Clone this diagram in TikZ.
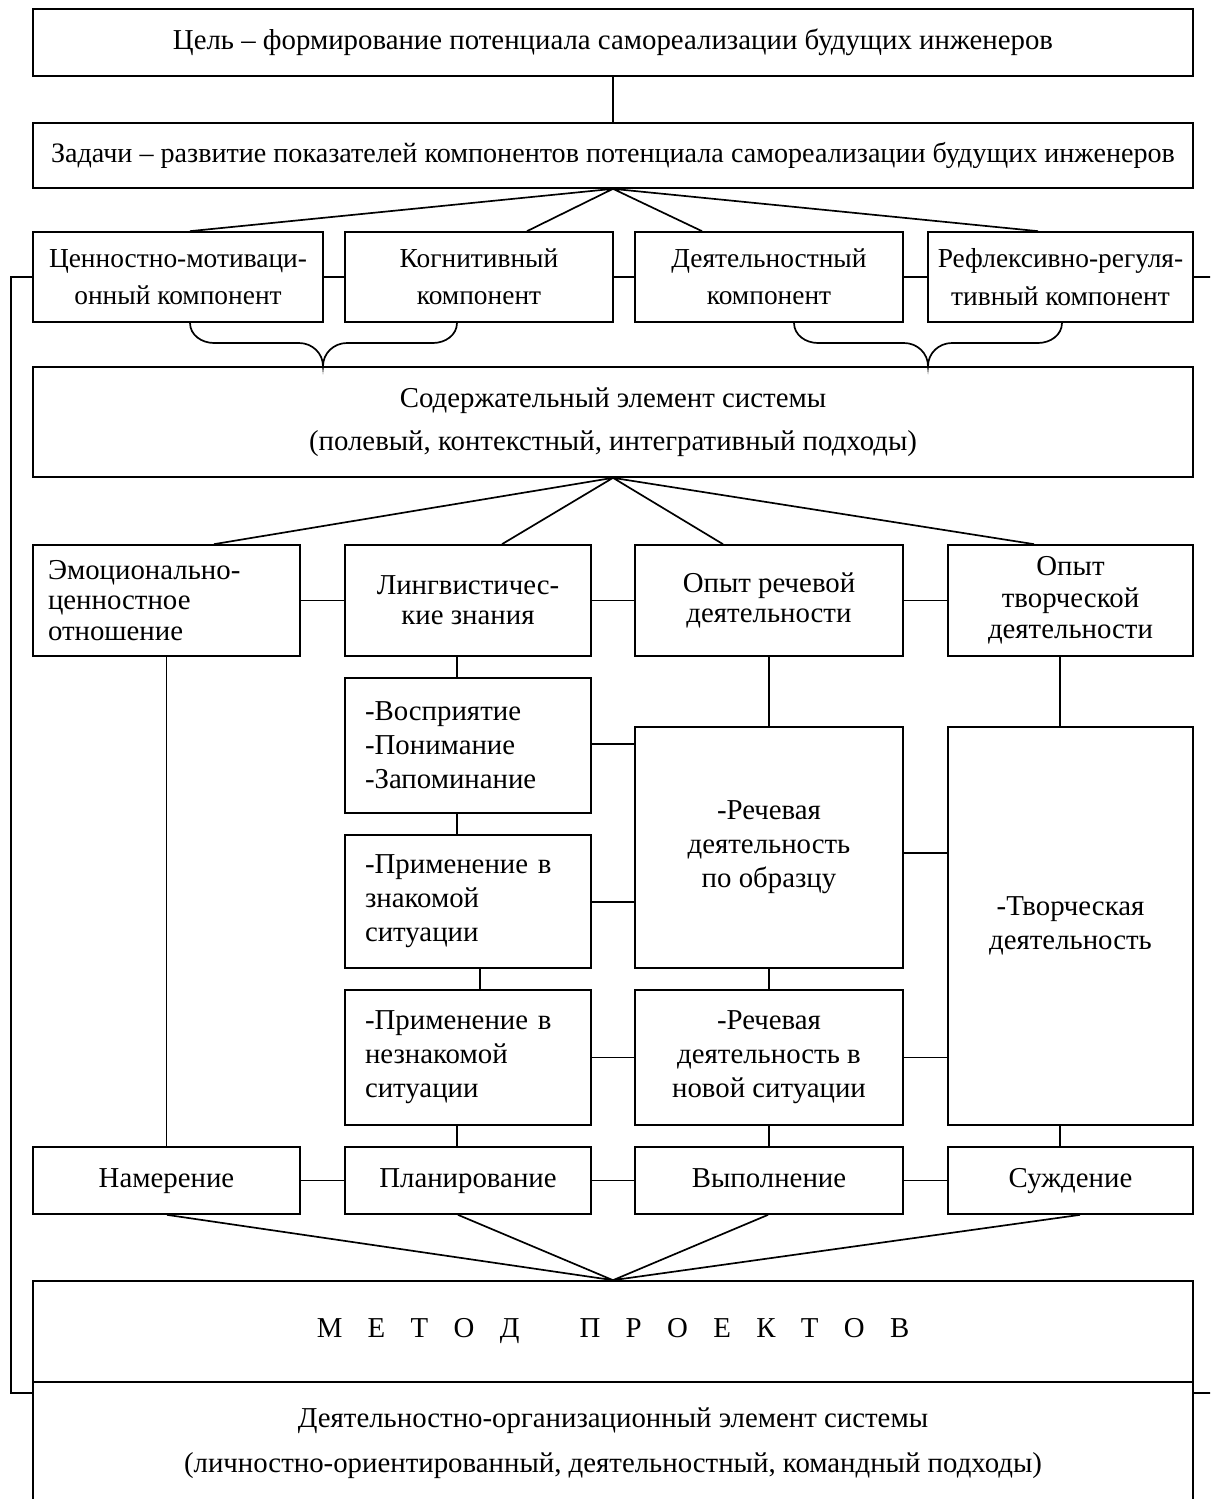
\documentclass[tikz,border=0pt]{standalone}
\usepackage{fontspec}
\setmainfont{Liberation Serif}
\usetikzlibrary{calc}

\tikzset{
  cell/.style 2 args={draw, line width=1.2pt, inner sep=0pt, align=center,
    minimum width=#1*0.025cm, minimum height=#2*0.025cm},
  lcell/.style n args={3}{cell={#1}{#2}, text width=#3*0.025cm, align=left},
  link/.style={line width=1.2pt},
  lsk/.style={font=\fontsize{20.5}{#1}\selectfont},
  one/.style={text height=14pt, text depth=4pt},
}

\begin{document}
\begin{tikzpicture}[x=0.025cm, y=-0.025cm, font=\fontsize{20.5}{24}\selectfont]
\useasboundingbox (0,0) rectangle (1210,1499);
\clip (0,0) rectangle (1210,1499);

% goal and tasks
\node[cell={1160}{67}, one] (goal) at (613,42.5) {Цель – формирование потенциала самореализации будущих инженеров};
\node[cell={1160}{65}, one, font=\fontsize{20}{24}\selectfont] (tasks) at (613,155.5) {Задачи – развитие показателей компонентов потенциала самореализации будущих инженеров};
\draw[link] (goal.south) -- (tasks.north);

% components
\tikzset{comp/.style={font=\fontsize{19.5}{26.5}\selectfont}}
\node[cell={290}{90}, comp] (val) at (178,277) {Ценностно-мотиваци-\\онный компонент};
\node[cell={268}{90}, comp] (cog) at (479,277) {Когнитивный\\компонент};
\node[cell={268}{90}, comp] (act) at (769,277) {Деятельностный\\компонент};
\node[cell={265}{90}, comp] (ref) at (1060.5,277) {Рефлексивно-регуля-\\тивный компонент};
\draw[link] (val) -- (cog) (cog) -- (act) (act) -- (ref);
\draw[link] (190,0 |- val.north) -- (tasks.south) -- (527,0 |- cog.north)
            (702,0 |- act.north) -- (tasks.south) -- (1038,0 |- ref.north);

% content element
\node[cell={1160}{110}, lsk=31] (cont) at (613,422) {Содержательный элемент системы\\(полевый, контекстный, интегративный подходы)};

% braces
\coordinate (T1) at (323,0 |- cont.north);
\coordinate (T2) at (928,0 |- cont.north);
\draw[link] (190,0 |- val.south) to[out=-90,in=180] (214,343) -- (299,343)
  to[out=0,in=90] (T1) to[out=90,in=180] (347,343) -- (433,343)
  to[out=0,in=-90] (457,0 |- cog.south);
\draw[link] (794,0 |- act.south) to[out=-90,in=180] (818,343) -- (904,343)
  to[out=0,in=90] (T2) to[out=90,in=180] (952,343) -- (1038,343)
  to[out=0,in=-90] (1062,0 |- ref.south);

% side lines
\node[cell={1160}{101}] (meth) at (613,1331.5) {{\spaceskip=0.88em plus 0pt М Е Т О Д\hspace{1.2em} П Р О Е К Т О В}};
\node[cell={1160}{123}, lsk=32] (org) at (613,1443.5) {Деятельностно-организационный элемент системы\\(личностно-ориентированный, деятельностный, командный подходы)};
\coordinate (Q1) at (11,1393);
\coordinate (Q2) at (1214,1393);
\draw[link] (val.west) -| (Q1) -- (Q1 -| org.west);
\draw[link] (ref.east) -| (Q2) -- (Q2 -| org.east);

% second row
\node[lcell={267}{111}{237}, lsk=21.5] (emo) at (166.5,600.5) {Эмоционально-\\ценностное\\отношение};
\node[cell={246}{111}, lsk=21.5] (ling) at (468,600.5) {Лингвистичес-\\кие знания};
\node[cell={268}{111}, lsk=21.5] (speech) at (769,600.5) {Опыт речевой\\деятельности};
\node[cell={245}{111}, lsk=22.5] (creat) at (1070.5,600.5) {Опыт\\творческой\\деятельности};
\draw[link] (emo) -- (ling) (ling) -- (speech) (speech) -- (creat);
\draw[link] (214,0 |- emo.north) -- (cont.south) -- (502,0 |- ling.north)
            (723,0 |- speech.north) -- (cont.south) -- (1034,0 |- creat.north);

% linguistic column
\node[lcell={246}{135}{206}, lsk=24.2] (L1) at (468,745.5) {-Восприятие\\-Понимание\\-Запоминание};
\node[lcell={246}{133}{206}, lsk=24.2] (L2) at (468,901.5) {-Применение в\\знакомой\\ситуации};
\node[lcell={246}{135}{206}, lsk=24.2] (L3) at (468,1057.5) {-Применение в\\незнакомой\\ситуации};
\draw[link] (457,0 |- ling.south) -- (457,0 |- L1.north);
\draw[link] (457,0 |- L1.south) -- (457,0 |- L2.north);
\draw[link] (480,0 |- L2.south) -- (480,0 |- L3.north);

% speech column
\node[cell={268}{241}, lsk=24.2] (R1) at (769,847.5) {-Речевая\\деятельность\\по образцу};
\node[cell={268}{135}, lsk=24.2] (R2) at (769,1057.5) {-Речевая\\деятельность в\\новой ситуации};
\draw[link] (speech.south) -- (R1.north) (R1.south) -- (R2.north);
\draw[link] (L1.east |- 0,744) -- (R1.west |- 0,744);
\draw[link] (L2.east |- 0,902) -- (R1.west |- 0,902);
\draw[link] (L3.east) -- (R2.west);

% creative column
\node[cell={245}{398}, lsk=24.2] (C1) at (1070.5,926) {-Творческая\\деятельность};
\draw[link] (1060,0 |- creat.south) -- (1060,0 |- C1.north);
\draw[link] (R1.east |- 0,853) -- (C1.west |- 0,853);
\draw[link] (R2.east) -- (C1.west |- R2.east);

% stages
\node[cell={267}{67}, one] (int) at (166.5,1180.5) {Намерение};
\node[cell={246}{67}, one] (plan) at (468,1180.5) {Планирование};
\node[cell={268}{67}, one] (exe) at (769,1180.5) {Выполнение};
\node[cell={245}{67}, one] (jud) at (1070.5,1180.5) {Суждение};
\draw[link] (int) -- (plan) (plan) -- (exe) (exe) -- (jud);
\draw[link] (emo.south) -- (emo.south |- int.north);
\draw[link] (457,0 |- L3.south) -- (457,0 |- plan.north);
\draw[link] (R2.south) -- (exe.north);
\draw[link] (1060,0 |- C1.south) -- (1060,0 |- jud.north);
\draw[link] (167,0 |- int.south) -- (meth.north) -- (458,0 |- plan.south)
            (768,0 |- exe.south) -- (meth.north) -- (1080,0 |- jud.south);
\end{tikzpicture}
\end{document}
